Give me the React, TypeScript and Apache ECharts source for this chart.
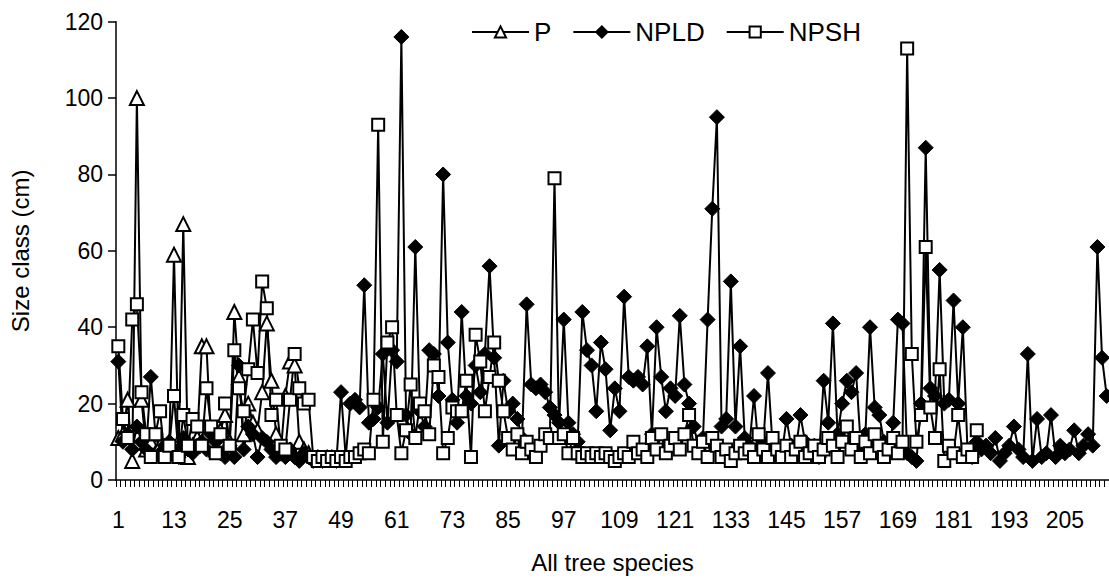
import React, { useEffect, useRef } from "react";
import * as echarts from "echarts";

const SPECIES_COUNT = 214;
const categories: string[] = Array.from({ length: SPECIES_COUNT }, (_, i) => String(i + 1));

const yTicks = { min: 0, max: 120, interval: 20 };

// P (species 1-42)
const pValues: number[] = [
  11, 12, 21, 5, 100, 21, 8, 10, 7, 9,
  8, 10, 59, 7, 67, 6, 9, 11, 35, 35,
  10, 8, 13, 17, 10, 44, 27, 12, 20, 15,
  13, 23, 41, 26, 12, 7, 22, 31, 30, 10,
  8, 7,
];

// NPLD (species 1-214)
const npldValues: number[] = [
  31, 10, 12, 8, 14, 10, 8, 27, 12, 7,
  9, 10, 8, 6, 11, 8, 7, 9, 10, 8,
  12, 10, 7, 6, 9, 6, 30, 8, 14, 12,
  6, 11, 10, 8, 6, 7, 6, 8, 6, 5,
  7, 6, 5, 6, 5, 6, 6, 5, 23, 6,
  20, 21, 19, 51, 15, 16, 19, 33, 15, 34,
  31, 116, 17, 12, 61, 18, 14, 34, 33, 22,
  80, 36, 21, 15, 44, 22, 20, 30, 23, 33,
  56, 32, 9, 26, 18, 20, 16, 11, 46, 25,
  24, 25, 23, 19, 17, 15, 42, 15, 12, 10,
  44, 34, 30, 18, 36, 29, 13, 24, 18, 48,
  27, 26, 27, 25, 35, 12, 40, 27, 18, 24,
  22, 43, 25, 20, 14, 9, 11, 42, 71, 95,
  14, 16, 52, 14, 35, 11, 9, 22, 8, 10,
  28, 9, 8, 7, 16, 9, 8, 17, 10, 7,
  9, 6, 26, 15, 41, 12, 20, 26, 23, 28,
  9, 12, 40, 19, 17, 10, 8, 15, 42, 41,
  7, 6, 5, 20, 87, 24, 22, 55, 20, 21,
  47, 20, 40, 8, 6, 10, 8, 9, 7, 11,
  5, 7, 9, 14, 8, 6, 33, 5, 16, 6,
  7, 17, 6, 9, 7, 8, 13, 7, 9, 12,
  9, 61, 32, 22,
];

// NPSH (species 1-186)
const npshValues: number[] = [
  35, 16, 11, 42, 46, 23, 12, 6, 12, 18,
  6, 9, 22, 6, 17, 9, 16, 14, 9, 24,
  14, 7, 12, 20, 9, 34, 24, 18, 29, 42,
  28, 52, 45, 17, 21, 9, 8, 21, 33, 24,
  20, 21, 6, 5, 6, 5, 6, 5, 6, 5,
  6, 6, 7, 8, 7, 21, 93, 10, 36, 40,
  17, 7, 13, 25, 11, 20, 18, 12, 30, 27,
  7, 11, 19, 18, 18, 26, 6, 38, 31, 18,
  27, 36, 26, 18, 11, 8, 12, 7, 10, 8,
  6, 9, 12, 11, 79, 11, 12, 7, 11, 7,
  6, 7, 6, 7, 6, 7, 6, 5, 6, 7,
  6, 10, 7, 8, 6, 11, 8, 12, 7, 9,
  11, 8, 12, 17, 9, 7, 10, 6, 11, 9,
  6, 8, 5, 7, 9, 7, 8, 6, 12, 8,
  6, 11, 8, 6, 9, 6, 8, 10, 6, 7,
  9, 6, 8, 11, 9, 6, 10, 14, 8, 11,
  6, 10, 7, 12, 9, 6, 8, 11, 7, 10,
  113, 33, 10, 17, 61, 19, 11, 29, 5, 9,
  7, 17, 6, 8, 6, 13,
];

const FONT = "'Liberation Sans', Arial, sans-serif";

export default function App() {
  const ref = useRef<HTMLDivElement>(null);

  useEffect(() => {
    if (!ref.current) return;
    const chart = echarts.init(ref.current, null, { renderer: "svg" });
    const lineStyle = { color: "#000", width: 2 };
    chart.setOption({
      animation: false,
      backgroundColor: "#fff",
      textStyle: { fontFamily: FONT, color: "#000" },
      legend: {
        top: 14,
        left: 466,
        itemWidth: 57,
        itemHeight: 14,
        itemGap: 21,
        textStyle: { fontFamily: FONT, fontSize: 26, color: "#000" },
        data: ["P", "NPLD", "NPSH"],
      },
      grid: { left: 113.4, right: 0, top: 21.7, bottom: 96.3, containLabel: false },
      xAxis: {
        type: "category",
        data: categories,
        boundaryGap: true,
        name: "All tree species",
        nameLocation: "middle",
        nameGap: 70,
        nameTextStyle: { fontFamily: FONT, fontSize: 24, color: "#000" },
        axisLine: { lineStyle: { color: "#000", width: 1.5 } },
        axisTick: { show: true, interval: 0, length: 7, lineStyle: { color: "#000", width: 1 } },
        axisLabel: { interval: 11, fontSize: 23, color: "#000", fontFamily: FONT, margin: 28 },
        splitLine: { show: false },
      },
      yAxis: {
        type: "value",
        min: yTicks.min,
        max: yTicks.max,
        interval: yTicks.interval,
        name: "Size class (cm)",
        nameLocation: "middle",
        nameGap: 84,
        nameTextStyle: { fontFamily: FONT, fontSize: 24, color: "#000" },
        axisLine: { show: true, lineStyle: { color: "#000", width: 1.5 } },
        axisTick: { show: true, length: 8, lineStyle: { color: "#000", width: 1.5 } },
        axisLabel: { fontSize: 23, color: "#000", fontFamily: FONT, margin: 13 },
        splitLine: { show: false },
      },
      series: [
        {
          name: "P",
          type: "line",
          data: pValues,
          symbol: "triangle",
          symbolSize: 14,
          showAllSymbol: true,
          lineStyle,
          itemStyle: { color: "#fff", borderColor: "#000", borderWidth: 2 },
          emphasis: { disabled: true },
        },
        {
          name: "NPLD",
          type: "line",
          data: npldValues,
          symbol: "diamond",
          symbolSize: 15,
          showAllSymbol: true,
          lineStyle,
          itemStyle: { color: "#000", borderColor: "#000", borderWidth: 1 },
          emphasis: { disabled: true },
        },
        {
          name: "NPSH",
          type: "line",
          data: npshValues,
          symbol: "rect",
          symbolSize: 12,
          showAllSymbol: true,
          lineStyle,
          itemStyle: { color: "#fff", borderColor: "#000", borderWidth: 2 },
          emphasis: { disabled: true },
        },
      ],
    });
    return () => chart.dispose();
  }, []);

  return (
    <div
      ref={ref}
      style={{ position: "absolute", left: 0, top: 0, width: 1109, height: 579, background: "#fff" }}
    />
  );
}
